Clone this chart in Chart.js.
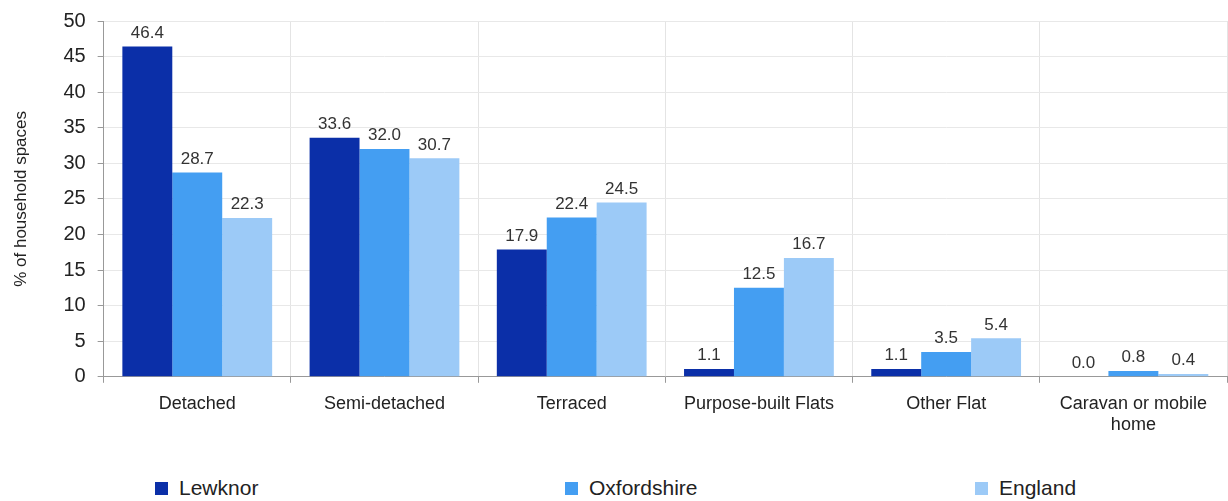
<!DOCTYPE html>
<html>
<head>
<meta charset="utf-8">
<script src="https://cdn.jsdelivr.net/npm/chart.js@4"></script>
<style>
  html, body { margin: 0; padding: 0; background: #fff; }
  body { width: 1228px; height: 501px; overflow: hidden; font-family: 'Liberation Sans', Arial, sans-serif; }
  #wrap { position: relative; width: 1228px; height: 450px; }
  #legend { display: flex; padding-left: 155px; margin-top: 26px; }
  .item { width: 410px; flex-shrink: 0; display: flex; align-items: center; font-size: 21px; color: #222; }
  .sw { width: 13px; height: 13px; margin-right: 11px; }
</style>
</head>
<body>
<div id="wrap"><canvas id="c"></canvas></div>
<div id="legend"></div>
<script>
// Data
const categories = ['Detached', 'Semi-detached', 'Terraced', 'Purpose-built Flats', 'Other Flat', ['Caravan or mobile', 'home']];
const lewknor     = [46.4, 33.6, 17.9, 1.1, 1.1, 0.0];
const oxfordshire = [28.7, 32.0, 22.4, 12.5, 3.5, 0.8];
const england     = [22.3, 30.7, 24.5, 16.7, 5.4, 0.4];
const seriesNames = ['Lewknor', 'Oxfordshire', 'England'];
const yTicks = [0, 5, 10, 15, 20, 25, 30, 35, 40, 45, 50];

const DARK  = '#0b2fa8';
const MID   = '#449ef2';
const LIGHT = '#9ccaf7';
const COLORS = [DARK, MID, LIGHT];

// draws the value above each bar
const valueLabels = {
  id: 'valueLabels',
  afterDatasetsDraw(chart) {
    const ctx = chart.ctx;
    ctx.save();
    ctx.font = '17px "Liberation Sans", Arial, sans-serif';
    ctx.fillStyle = '#333';
    ctx.textAlign = 'center';
    ctx.textBaseline = 'bottom';
    chart.data.datasets.forEach((ds, i) => {
      chart.getDatasetMeta(i).data.forEach((el, j) => {
        ctx.fillText(ds.data[j].toFixed(1), el.x, el.y - 5);
      });
    });
    ctx.restore();
  }
};

const seriesData = [lewknor, oxfordshire, england];

new Chart(document.getElementById('c'), {
  type: 'bar',
  data: {
    labels: categories,
    datasets: seriesNames.map((name, i) => ({
      label: name,
      data: seriesData[i],
      backgroundColor: COLORS[i],
      borderWidth: 0,
      barPercentage: 1.0,
      categoryPercentage: 0.8,
    })),
  },
  options: {
    responsive: true,
    maintainAspectRatio: false,
    animation: false,
    layout: { padding: { top: 7, right: 1, bottom: 4, left: 7 } },
    plugins: {
      legend: { display: false },
      tooltip: { enabled: false },
    },
    scales: {
      x: {
        grid: { color: '#e4e4e4', offset: true, tickLength: 6, tickColor: '#999' },
        border: { color: '#999' },
        ticks: { color: '#222', font: { family: 'Liberation Sans', size: 18 }, padding: 10, maxRotation: 0, autoSkip: false },
      },
      y: {
        min: 0,
        max: 50,
        afterBuildTicks: axis => { axis.ticks = yTicks.map(v => ({ value: v })); },
        grid: { color: '#e8e8e8', tickLength: 6, tickColor: '#999' },
        border: { color: '#999' },
        ticks: { color: '#222', font: { family: 'Liberation Sans', size: 20, lineHeight: 0.9 }, padding: 12 },
        title: { display: true, text: '% of household spaces', color: '#222', font: { family: 'Liberation Sans', size: 17 }, padding: { bottom: 20 } },
      },
    },
  },
  plugins: [valueLabels],
});

// legend spread over three equal columns, like the original
const legend = document.getElementById('legend');
seriesNames.forEach((name, i) => {
  const item = document.createElement('div');
  item.className = 'item';
  item.innerHTML = `<span class="sw" style="background:${COLORS[i]}"></span>${name}`;
  legend.appendChild(item);
});
</script>
</body>
</html>
